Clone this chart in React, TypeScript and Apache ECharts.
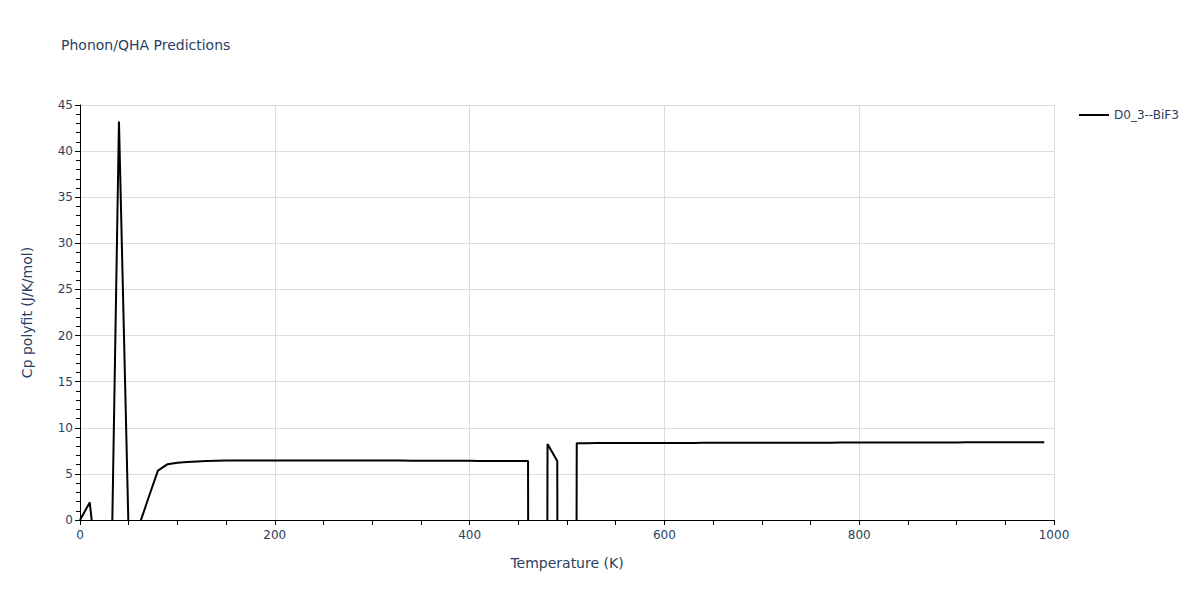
import React, { useEffect, useRef } from "react";
import * as echarts from "echarts";

const temperatures = [
  0, 10, 20, 30, 40, 50, 60, 70, 80, 90,
  100, 110, 120, 130, 140, 150, 160, 170, 180, 190,
  200, 210, 220, 230, 240, 250, 260, 270, 280, 290,
  300, 310, 320, 330, 340, 350, 360, 370, 380, 390,
  400, 410, 420, 430, 440, 450, 460, 470, 480, 490,
  500, 510, 520, 530, 540, 550, 560, 570, 580, 590,
  600, 610, 620, 630, 640, 650, 660, 670, 680, 690,
  700, 710, 720, 730, 740, 750, 760, 770, 780, 790,
  800, 810, 820, 830, 840, 850, 860, 870, 880, 890,
  900, 910, 920, 930, 940, 950, 960, 970, 980, 990,
];

const cpValues = [
  0, 1.9, -7.6, -20.3, 43.2, -1.8, -0.8, 2.3, 5.35, 6.05,
  6.22, 6.3, 6.35, 6.39, 6.42, 6.44, 6.45, 6.45, 6.45, 6.45,
  6.45, 6.45, 6.45, 6.45, 6.45, 6.45, 6.45, 6.45, 6.45, 6.45,
  6.44, 6.44, 6.44, 6.44, 6.43, 6.43, 6.43, 6.43, 6.42, 6.42,
  6.42, 6.41, 6.41, 6.41, 6.4, 6.4, 6.39, -500, 8.24, 6.4,
  -500, 8.33, 8.33, 8.34, 8.34, 8.34, 8.35, 8.35, 8.35, 8.35,
  8.36, 8.36, 8.36, 8.36, 8.37, 8.37, 8.37, 8.37, 8.38, 8.38,
  8.38, 8.38, 8.38, 8.39, 8.39, 8.39, 8.39, 8.39, 8.4, 8.4,
  8.4, 8.4, 8.4, 8.4, 8.41, 8.41, 8.41, 8.41, 8.41, 8.41,
  8.41, 8.42, 8.42, 8.42, 8.42, 8.42, 8.42, 8.42, 8.42, 8.42,
];

const seriesName = "D0_3--BiF3";
const FONT = "'DejaVu Sans', Verdana, sans-serif";
const TEXT_COLOR = "#2a3f5f";

export default function App() {
  const ref = useRef<HTMLDivElement>(null);

  useEffect(() => {
    if (!ref.current) return;
    const chart = echarts.init(ref.current, undefined, { renderer: "svg" });
    const data = temperatures.map((t, i) => [t, cpValues[i]]);
    chart.setOption({
      animation: false,
      backgroundColor: "#fff",
      title: {
        text: "Phonon/QHA Predictions",
        left: 56,
        top: 33,
        textStyle: { fontFamily: FONT, fontSize: 14, fontWeight: "normal", color: TEXT_COLOR },
      },
      legend: {
        left: 1074,
        top: 104,
        itemWidth: 30,
        itemHeight: 14,
        itemGap: 6,
        textStyle: { fontFamily: FONT, fontSize: 12, color: TEXT_COLOR },
        data: [{ name: seriesName, icon: "path://M0,0L30,0L30,2L0,2Z" }],
      },
      grid: { left: 80, right: 146, top: 105, bottom: 80, containLabel: false },
      xAxis: {
        type: "value",
        min: 0,
        max: 1000,
        interval: 200,
        name: "Temperature (K)",
        nameLocation: "middle",
        nameGap: 36,
        nameTextStyle: { fontFamily: FONT, fontSize: 14, color: TEXT_COLOR },
        axisLine: { show: true, onZero: false, lineStyle: { color: "#000", width: 1 } },
        axisTick: { show: true, length: 5, lineStyle: { color: "#000" } },
        minorTick: { show: true, splitNumber: 4, length: 5, lineStyle: { color: "#000" } },
        axisLabel: {
          fontFamily: FONT,
          fontSize: 12,
          color: TEXT_COLOR,
          margin: 9,
          formatter: (v: number) => String(v),
        },
        splitLine: { show: true, lineStyle: { color: "#dcdcdc", width: 1 } },
      },
      yAxis: {
        type: "value",
        min: 0,
        max: 45,
        interval: 5,
        name: "Cp polyfit (J/K/mol)",
        nameLocation: "middle",
        nameGap: 46,
        nameTextStyle: { fontFamily: FONT, fontSize: 14, color: TEXT_COLOR },
        axisLine: { show: true, onZero: false, lineStyle: { color: "#000", width: 1 } },
        axisTick: { show: true, length: 5, lineStyle: { color: "#000" } },
        minorTick: { show: true, splitNumber: 5, length: 4, lineStyle: { color: "#000" } },
        axisLabel: { fontFamily: FONT, fontSize: 12, color: TEXT_COLOR, margin: 7 },
        splitLine: { show: true, lineStyle: { color: "#dcdcdc", width: 1 } },
      },
      series: [
        {
          name: seriesName,
          type: "line",
          data,
          symbol: "none",
          clip: true,
          lineStyle: { color: "#000", width: 2 },
          itemStyle: { color: "#000" },
        },
      ],
    });
    return () => chart.dispose();
  }, []);

  return <div ref={ref} style={{ width: 1200, height: 600, margin: -8 }} />;
}
